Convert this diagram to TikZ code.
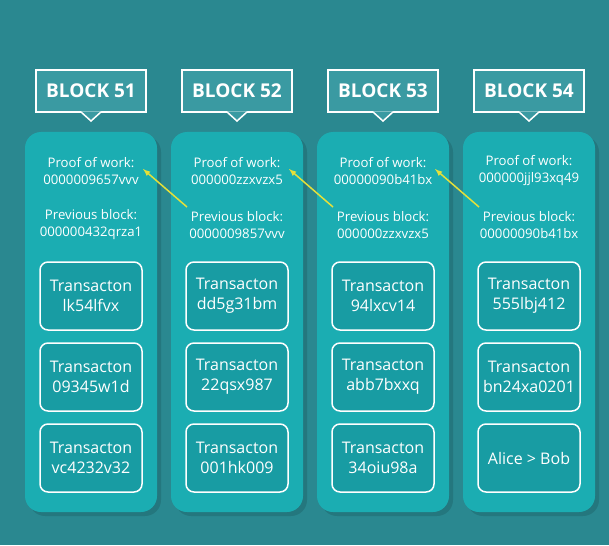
\documentclass[tikz,border=0pt]{standalone}
\usepackage{fontspec}
\setmainfont{Open Sans}
\begin{document}
\begin{tikzpicture}[x=1pt,y=-1pt,
  col/.style={fill=colc, rounded corners=16pt, draw=none},
  hdr/.style={fill=hdrc, draw=white, line width=1.5pt, minimum width=110pt, minimum height=42pt, text=white, font=\fontsize{19}{22}\selectfont\bfseries},
  tx/.style={fill=txc, draw=white, line width=1.5pt, rounded corners=8pt, minimum width=102pt, minimum height=68pt, text=white, align=center, font=\fontsize{16}{20}\selectfont},
  info/.style={text=white, align=center, font=\fontsize{13.2}{17}\selectfont, inner sep=0pt},
  lnk/.style={draw=yellowc, line width=1.5pt, -latex}]
\definecolor{bgc}{HTML}{2A8890}
\definecolor{colc}{HTML}{1BADB2}
\definecolor{txc}{HTML}{189CA3}
\definecolor{hdrc}{HTML}{3A9AA2}
\definecolor{yellowc}{HTML}{E5E03A}
\fill[bgc] (0,0) rectangle (609,545);
\useasboundingbox (0,0) rectangle (609,545);
\foreach \i/\n/\p/\q/\a/\b/\c in {
 0/51/0000009657vvv/000000432qrza1/{Transacton\\lk54lfvx}/{Transacton\\09345w1d}/{Transacton\\vc4232v32},
 1/52/000000zzxvzx5/0000009857vvv/{Transacton\\dd5g31bm}/{Transacton\\22qsx987}/{Transacton\\001hk009},
 2/53/00000090b41bx/000000zzxvzx5/{Transacton\\94lxcv14}/{Transacton\\abb7bxxq}/{Transacton\\34oiu98a},
 3/54/000000jjl93xq49/00000090b41bx/{Transacton\\555lbj412}/{Transacton\\bn24xa0201}/{Alice > Bob}}{
  \pgfmathsetmacro{\cx}{91+146*\i}
  \fill[black,opacity=0.12,rounded corners=16pt] (\cx-62,136) rectangle (\cx+70,516);
  \fill[col] (\cx-66,132) rectangle (\cx+66,512);
  \node[hdr] (h\i) at (\cx,91) {BLOCK \n};
  \fill[hdrc] (\cx-10,111.5) -- (\cx,121) -- (\cx+10,111.5) -- cycle;
  \draw[white,line width=1.5pt] (\cx-10,112) -- (\cx,121) -- (\cx+10,112);
  \node[info] (p\i) at (\cx,171) {Proof of work:\\\p};
  \node[info] (v\i) at (\cx,225) {Previous block:\\\q};
  \node[tx] (a\i) at (\cx,296) {\a};
  \node[tx] (b\i) at (\cx,377) {\b};
  \node[tx] (c\i) at (\cx,458) {\c};
}
\foreach \i/\j in {0/1,1/2,2/3}{
  \pgfmathsetmacro{\cx}{91+146*\i}
  \coordinate (s\j) at (\cx+96,207);
  \draw[lnk] (s\j) -- (\cx+52,169);
}
\end{tikzpicture}
\end{document}
